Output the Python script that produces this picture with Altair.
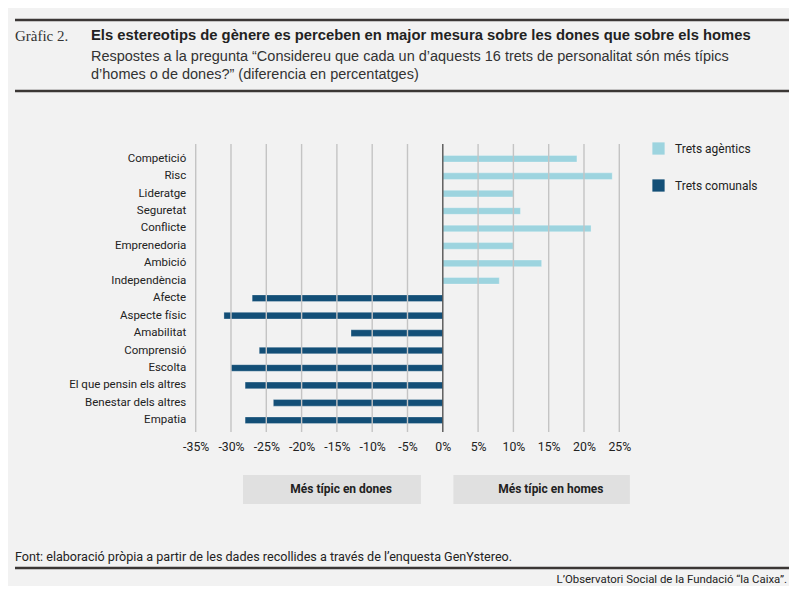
import altair as alt
import pandas as pd

traits = ["Competició", "Risc", "Lideratge", "Seguretat", "Conflicte", "Emprenedoria",
          "Ambició", "Independència", "Afecte", "Aspecte físic", "Amabilitat",
          "Comprensió", "Escolta", "El que pensin els altres", "Benestar dels altres", "Empatia"]
values = [19, 24, 10, 11, 21, 10, 14, 8, -27, -31, -13, -26, -30, -28, -24, -28]
groups = ["Trets agèntics"] * 8 + ["Trets comunals"] * 8
group_names = ["Trets agèntics", "Trets comunals"]
group_colors = ["#9dd4df", "#134f77"]
x_ticks = [-35, -30, -25, -20, -15, -10, -5, 0, 5, 10, 15, 20, 25]
panel_labels = ["Més típic en dones", "Més típic en homes"]
panel_start = [-28.3, 1.5]
panel_end = [-3.1, 26.5]
panel_mid = [-14.4, 15.3]

title_num = "Gràfic 2."
title = "Els estereotips de gènere es perceben en major mesura sobre les dones que sobre els homes"
subtitle1 = "Respostes a la pregunta “Considereu que cada un d’aquests 16 trets de personalitat són més típics"
subtitle2 = "d’homes o de dones?” (diferencia en percentatges)"
source = "Font: elaboració pròpia a partir de les dades recollides a través de l’enquesta GenYstereo."
credit = "L’Observatori Social de la Fundació “la Caixa”."

W, H = 423.6, 279
FONT = "Roboto"
xscale = alt.Scale(domain=[-35, 25], nice=False, zero=False)
xaxis = alt.Axis(values=x_ticks, grid=False, ticks=False, domain=False, title=None,
                 labelExpr="datum.value + '%'", labelFont=FONT, labelFontSize=12.3,
                 labelColor="#222222", labelPadding=12, labelOverlap=False, labelFlush=False)

df = pd.DataFrame({"trait": traits, "value": values, "group": groups})
grid_df = pd.DataFrame({"x": [t for t in x_ticks if t != 0]})
zero_df = pd.DataFrame({"x": [0]})
panel_df = pd.DataFrame({"label": panel_labels, "x0": panel_start, "x1": panel_end, "xm": panel_mid})
one = pd.DataFrame({"a": [0]})

grid = alt.Chart(grid_df).mark_rule(color="#c4c4c4", strokeWidth=1.4).encode(
    x=alt.X("x:Q", scale=xscale, axis=xaxis), y=alt.value(-6), y2=alt.value(282))

bars = alt.Chart(df).mark_bar(size=6.6, stroke="#ffffff", strokeOpacity=0.35, strokeWidth=0.8).encode(
    x=alt.X("value:Q", scale=xscale, axis=xaxis),
    x2=alt.datum(0),
    y=alt.Y("trait:N", sort=traits, scale=alt.Scale(paddingInner=0, paddingOuter=0),
            axis=alt.Axis(title=None, domain=False, ticks=False, labelPadding=10,
                          labelFont=FONT, labelFontSize=11.5, labelColor="#222222")),
    color=alt.Color("group:N", scale=alt.Scale(domain=group_names, range=group_colors),
                    legend=alt.Legend(title=None, orient="none", legendX=456.3, legendY=-8,
                                      symbolType="square", symbolSize=150, symbolStrokeWidth=0,
                                      labelFont=FONT, labelFontSize=12, labelColor="#222222",
                                      labelOffset=10, rowPadding=24, padding=0)),
)

zero = alt.Chart(zero_df).mark_rule(color="#555555", strokeWidth=1.4).encode(
    x=alt.X("x:Q", scale=xscale, axis=xaxis), y=alt.value(-6), y2=alt.value(282))

panels = alt.Chart(panel_df).mark_rect(color="#e0e0e0").encode(
    x=alt.X("x0:Q", scale=xscale, axis=xaxis), x2="x1:Q", y=alt.value(325), y2=alt.value(354))
panel_text = alt.Chart(panel_df).mark_text(font=FONT, fontSize=12, fontWeight="bold",
                                           color="#222222", baseline="middle").encode(
    x=alt.X("xm:Q", scale=xscale, axis=xaxis), y=alt.value(339.5), text="label:N")


def rule(x0, x1, y):
    return alt.Chart(one).mark_rule(color="#3b3735", strokeWidth=2.5).encode(
        x=alt.value(x0), x2=alt.value(x1), y=alt.value(y))


def label(txt, x, y, size=13, weight="normal", font=FONT, color="#333333", align="left"):
    return alt.Chart(one).mark_text(text=txt, font=font, fontSize=size, fontWeight=weight,
                                    color=color, align=align, baseline="middle").encode(
        x=alt.value(x), y=alt.value(y))


L, R = -180.7, 595.3
NARROW = "Liberation Sans Narrow, Roboto"
texts = [
    rule(L, R, -130), rule(L, R, -59), rule(L, R, 418),
    label(title_num, L, -114, size=15, font="Liberation Serif", color="#333333"),
    label(title, -104.7, -114, size=14.8, weight="bold", font="Liberation Sans", color="#222222"),
    label(subtitle1, -104.7, -93, size=14.5, font="Liberation Sans"),
    label(subtitle2, -104.7, -75, size=14.5, font="Liberation Sans"),
    label(source, L, 407, size=12.6, font=NARROW, color="#222222"),
    label(credit, 591.3, 430, size=11.4, font=NARROW, color="#222222", align="right"),
]

chart = alt.layer(bars, grid, zero, panels, panel_text, *texts).properties(
    width=W, height=H,
    autosize=alt.AutoSizeParams(type="none"),
    padding={"left": 187.7, "top": 142, "right": 170, "bottom": 157},
    background="#f2f2f2",
).configure_view(stroke=None)

chart.save("out.html", embed_options={"renderer": "svg", "actions": False})
